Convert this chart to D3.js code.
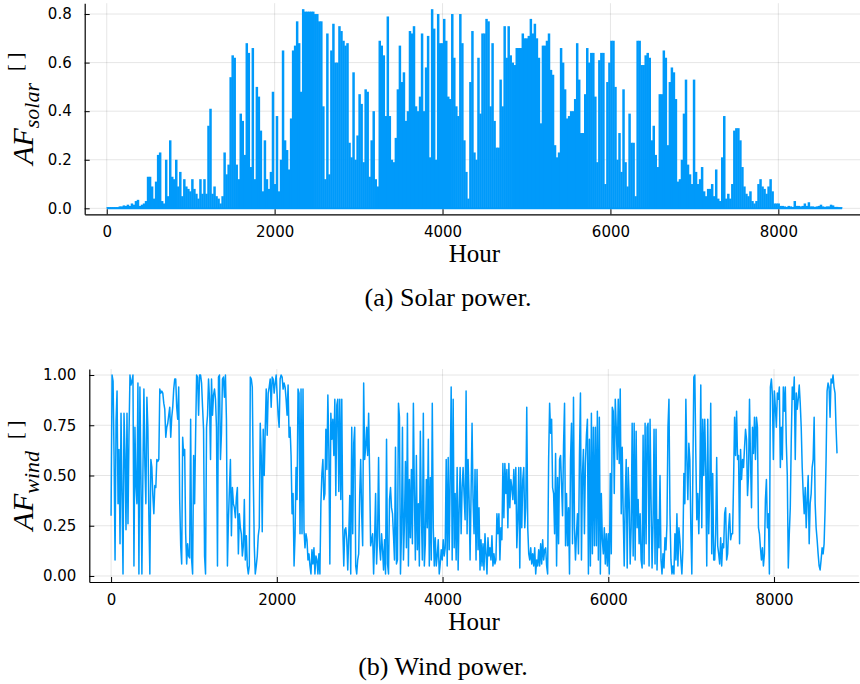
<!DOCTYPE html>
<html>
<head>
<meta charset="utf-8">
<script src="https://cdn.jsdelivr.net/npm/d3@7"></script>
<style>
  html, body { margin: 0; padding: 0; background: #fff; }
  svg { display: block; }
</style>
</head>
<body>
<svg id="chart" width="860" height="684"></svg>
<script>
// ---------------- DATA ----------------
// Solar availability factor: daily peak (one value per day, 365 days)
const solarDailyPeak = [
0.005,0.005,0.005,0.005,0.005,0.005,0.008,0.008,0.012,0.01,0.015,0.01,0.02,0.015,0.03,0.035,0.01,0.015,0.02,0.03,
0.13,0.13,0.09,0.04,0.11,0.22,0.23,0.03,0.02,0.2,0.05,0.28,0.13,0.12,0.2,0.09,0.15,0.05,0.12,0.09,
0.08,0.07,0.12,0.08,0.06,0.04,0.12,0.06,0.12,0.06,0.34,0.41,0.06,0.09,0.05,0.04,0.02,0.05,0.23,0.14,
0.18,0.54,0.63,0.62,0.18,0.12,0.39,0.36,0.22,0.68,0.64,0.17,0.66,0.12,0.5,0.46,0.32,0.07,0.28,0.12,
0.08,0.15,0.48,0.1,0.38,0.07,0.2,0.65,0.28,0.24,0.16,0.37,0.65,0.67,0.77,0.68,0.48,0.82,0.81,0.81,
0.81,0.81,0.81,0.8,0.8,0.77,0.77,0.42,0.12,0.72,0.14,0.65,0.76,0.6,0.6,0.75,0.73,0.69,0.67,0.68,
0.27,0.21,0.56,0.2,0.3,0.47,0.43,0.19,0.49,0.48,0.13,0.28,0.4,0.12,0.09,0.69,0.67,0.63,0.38,0.79,
0.38,0.2,0.19,0.29,0.49,0.67,0.52,0.56,0.36,0.4,0.73,0.72,0.75,0.42,0.4,0.46,0.72,0.4,0.58,0.71,
0.21,0.82,0.74,0.2,0.8,0.68,0.68,0.78,0.69,0.46,0.45,0.8,0.62,0.42,0.38,0.8,0.68,0.28,0.15,0.04,
0.52,0.73,0.23,0.2,0.62,0.39,0.72,0.72,0.78,0.77,0.42,0.68,0.36,0.25,0.25,0.53,0.42,0.75,0.62,0.75,
0.63,0.6,0.59,0.66,0.66,0.66,0.72,0.7,0.7,0.71,0.78,0.72,0.76,0.7,0.62,0.35,0.67,0.67,0.69,0.72,
0.57,0.55,0.26,0.21,0.23,0.66,0.6,0.49,0.37,0.38,0.4,0.4,0.45,0.68,0.53,0.31,0.31,0.47,0.66,0.6,
0.64,0.64,0.46,0.19,0.61,0.64,0.64,0.1,0.52,0.6,0.69,0.69,0.5,0.2,0.31,0.15,0.49,0.19,0.09,0.39,
0.27,0.27,0.05,0.69,0.69,0.59,0.59,0.63,0.64,0.62,0.28,0.34,0.22,0.17,0.47,0.47,0.65,0.62,0.26,0.52,
0.58,0.56,0.45,0.11,0.12,0.2,0.39,0.53,0.18,0.14,0.1,0.53,0.15,0.1,0.12,0.17,0.07,0.05,0.08,0.08,
0.1,0.05,0.16,0.04,0.03,0.21,0.38,0.04,0.06,0.04,0.1,0.32,0.33,0.33,0.28,0.17,0.09,0.06,0.05,0.07,
0.03,0.02,0.03,0.1,0.12,0.09,0.08,0.06,0.09,0.12,0.07,0.02,0.02,0.02,0.01,0.01,0.008,0.006,0.01,0.008,
0.006,0.03,0.01,0.01,0.008,0.01,0.02,0.01,0.025,0.008,0.008,0.006,0.008,0.01,0.015,0.008,0.006,0.008,0.008,0.015,
0.012,0.006,0.006,0.005,0.005
];

// Wind availability factor sampled every 12 hours (hour 0 .. 8760)
const windSampleStep = 12;
const windValues = [
0.3,1.0,0.97,0.6,0.08,0.77,0.92,0.36,0.63,0.16,
0.81,0.4,0.01,0.81,0.61,0.23,0.81,0.26,0.7,1.0,
0.95,0.97,1.0,0.05,0.74,0.45,0.36,0.96,0.01,0.94,
0.5,0.01,0.51,0.93,0.55,0.36,0.89,0.74,0.3,0.01,
0.58,0.54,0.4,0.31,0.45,0.44,0.58,0.57,0.58,0.93,
0.91,0.92,0.91,0.86,0.83,0.69,0.74,0.76,0.8,0.84,
0.69,0.79,0.84,0.93,0.98,0.98,0.84,0.78,0.94,0.38,
0.15,0.06,0.69,0.6,0.63,0.21,0.06,0.16,0.1,0.09,
0.78,0.08,0.01,0.6,0.36,0.7,1.0,0.99,0.8,1.0,
1.0,0.96,0.84,0.73,0.1,0.01,0.74,0.8,0.98,0.88,
0.58,0.98,0.8,0.9,0.93,0.88,0.74,0.05,0.99,1.0,
0.58,0.71,0.98,0.99,0.89,1.0,0.78,0.05,0.28,0.43,
0.58,0.2,0.44,0.36,0.34,0.29,0.39,0.44,0.11,0.31,
0.24,0.21,0.1,0.15,0.38,0.08,0.2,0.05,0.01,0.05,
0.99,0.98,0.94,0.5,0.15,0.01,0.05,0.1,0.2,0.24,
0.76,0.6,0.22,0.73,0.5,0.73,0.93,0.7,0.91,0.94,
0.98,0.84,0.99,0.98,0.91,0.96,1.0,0.9,0.8,0.74,
0.98,1.0,0.99,0.93,0.96,0.94,0.88,0.8,0.95,0.69,
0.74,0.6,0.31,0.41,0.05,0.2,0.54,0.38,0.93,0.91,
0.21,0.93,0.21,0.93,0.23,0.14,0.21,0.18,0.08,0.11,
0.05,0.01,0.13,0.06,0.14,0.01,0.1,0.08,0.01,0.11,
0.01,0.36,0.51,0.58,0.38,0.41,0.73,0.53,0.9,0.63,
0.06,0.81,0.68,0.78,0.6,0.88,0.4,0.85,0.88,0.42,
0.88,0.38,0.88,0.24,0.05,0.23,0.24,0.18,0.03,0.2,
0.4,0.01,0.74,0.21,0.66,0.74,0.05,0.01,0.08,0.11,
0.4,0.58,0.31,0.15,0.96,0.58,0.64,0.74,0.6,0.81,
0.51,0.15,0.18,0.21,0.01,0.18,0.41,0.06,0.2,0.59,
0.15,0.08,0.21,0.13,0.03,0.18,0.01,0.68,0.06,0.01,
0.38,0.44,0.34,0.31,0.2,0.08,0.64,0.06,0.08,0.86,
0.79,0.01,0.21,0.74,0.08,0.26,0.57,0.14,0.81,0.05,
0.48,0.19,0.53,0.16,0.86,0.4,0.08,0.6,0.13,0.36,
0.05,0.72,0.32,0.08,0.81,0.05,0.16,0.48,0.24,0.68,
0.05,0.49,0.08,0.86,0.24,0.05,0.19,0.05,0.1,0.18,
0.01,0.06,0.13,0.08,0.18,0.1,0.14,0.58,0.05,0.59,
0.13,0.48,0.94,0.08,0.88,0.14,0.41,0.08,0.54,0.03,
0.33,0.54,0.21,0.44,0.54,0.4,0.28,0.92,0.21,0.58,
0.39,0.08,0.41,0.76,0.38,0.21,0.53,0.08,0.53,0.13,
0.34,0.03,0.18,0.05,0.16,0.03,0.21,0.11,0.01,0.19,
0.1,0.14,0.08,0.2,0.05,0.11,0.06,0.08,0.31,0.21,
0.31,0.08,0.24,0.18,0.56,0.29,0.56,0.41,0.53,0.24,
0.56,0.34,0.48,0.44,0.38,0.53,0.36,0.54,0.14,0.28,
0.54,0.04,0.54,0.24,0.48,0.54,0.24,0.34,0.84,0.24,
0.11,0.08,0.14,0.06,0.11,0.05,0.14,0.01,0.08,0.05,
0.13,0.05,0.16,0.06,0.18,0.08,0.13,0.14,0.05,0.01,
0.58,0.86,0.71,0.78,0.44,0.41,0.21,0.61,0.05,0.49,
0.16,0.58,0.6,0.45,0.3,0.65,0.86,0.15,0.41,0.15,
0.34,0.01,0.58,0.76,0.16,0.89,0.24,0.08,0.21,0.31,
0.11,0.6,0.91,0.08,0.5,0.63,0.21,0.56,0.7,0.78,
0.01,0.68,0.05,0.81,0.11,0.74,0.15,0.74,0.15,0.82,
0.08,0.79,0.01,0.41,0.18,0.11,0.24,0.06,0.21,0.05,
0.21,0.01,0.51,0.11,0.84,0.82,0.41,0.88,0.74,0.58,
0.88,0.56,0.93,0.31,0.64,0.31,0.05,0.38,0.58,0.04,
0.54,0.38,0.06,0.24,0.76,0.1,0.76,0.08,0.72,0.24,
0.38,0.16,0.31,0.08,0.04,0.7,0.06,0.76,0.16,0.74,
0.76,0.05,0.78,0.38,0.04,0.26,0.73,0.06,0.73,0.03,
0.28,0.14,0.5,0.08,0.01,0.11,0.04,0.19,0.13,0.26,
0.74,0.88,0.31,0.08,0.01,0.05,0.01,0.21,0.08,0.31,
0.05,0.24,0.18,0.08,0.01,0.13,0.51,0.36,0.88,0.58,
0.38,0.66,0.58,0.24,0.01,0.5,0.99,1.0,0.61,0.28,
0.41,0.21,0.44,0.95,0.24,0.78,0.5,0.78,0.53,0.05,
0.78,0.21,0.44,0.86,0.11,0.51,0.08,0.08,0.21,0.59,
0.15,0.11,0.06,0.19,0.05,0.16,0.14,0.31,0.34,0.08,
0.11,0.24,0.31,0.18,0.21,0.21,0.48,0.79,0.6,0.82,
0.58,0.6,0.16,0.63,0.48,0.58,0.54,0.64,0.73,0.68,
0.4,0.5,0.88,0.58,0.34,0.74,0.61,0.79,0.58,0.79,
0.74,0.24,0.21,0.14,0.08,0.14,0.05,0.11,0.38,0.48,
0.24,0.31,0.01,0.94,0.98,0.9,0.58,0.92,0.84,0.74,
0.91,0.88,0.94,0.54,0.74,0.58,0.94,0.82,0.94,0.66,
0.5,0.04,0.21,0.34,0.68,0.94,0.88,0.99,0.58,0.91,
0.83,0.88,0.95,0.86,0.74,0.54,0.41,0.31,0.44,0.24,
0.38,0.5,0.16,0.36,0.41,0.54,0.58,0.79,0.36,0.24,
0.18,0.11,0.05,0.03,0.08,0.14,0.11,0.16,0.33,0.58,
0.92,0.96,0.94,0.79,0.98,0.96,1.0,0.94,0.91,0.74,0.61
];

const hourTicks = [0, 2000, 4000, 6000, 8000];
const solarTicks = [0, 0.2, 0.4, 0.6, 0.8];
const solarTickLabels = ["0.0", "0.2", "0.4", "0.6", "0.8"];
const windTicks = [0, 0.25, 0.5, 0.75, 1.0];
const windTickLabels = ["0.00", "0.25", "0.50", "0.75", "1.00"];
const hoursInYear = 8760;

// ---------------- DRAWING ----------------
const svg = d3.select("#chart");
const COLOR = "#009AFA";
const tickFont = "'DejaVu Sans', sans-serif";
const serif = "'Liberation Serif', 'Times New Roman', serif";

function widen(lo, hi) { const p = 0.03 * (hi - lo); return [lo - p, hi + p]; }

function panel(opts) {
  const g = svg.append("g");
  const x = d3.scaleLinear().domain(widen(0, hoursInYear)).range([opts.left, opts.right]);
  const y = d3.scaleLinear().domain(widen(0, opts.ymax)).range([opts.bottom, opts.top]);

  // grid
  const grid = g.append("g").attr("stroke", "#000").attr("stroke-opacity", 0.1).attr("stroke-width", 1);
  grid.selectAll("line.v").data(hourTicks).join("line").attr("class", "v")
    .attr("x1", d => x(d)).attr("x2", d => x(d)).attr("y1", opts.top).attr("y2", opts.bottom);
  grid.selectAll("line.h").data(opts.ticks).join("line").attr("class", "h")
    .attr("y1", d => y(d)).attr("y2", d => y(d)).attr("x1", opts.left).attr("x2", opts.right);

  opts.draw(g, x, y);

  // axes
  const ax = d3.axisBottom(x).tickValues(hourTicks).tickFormat(d3.format("d"))
    .tickSizeInner(-5).tickSizeOuter(0).tickPadding(12);
  const gx = g.append("g").attr("transform", `translate(0,${opts.bottom})`).call(ax);
  const ay = d3.axisLeft(y).tickValues(opts.ticks).tickFormat((d, i) => opts.tickLabels[i])
    .tickSizeInner(-5).tickSizeOuter(0).tickPadding(13);
  const gy = g.append("g").attr("transform", `translate(${opts.left},0)`).call(ay);
  [gx, gy].forEach(a => {
    a.select(".domain").attr("stroke", "#000").attr("stroke-width", 1.2);
    a.selectAll(".tick line").attr("stroke", "#000").attr("stroke-width", 1);
    a.selectAll(".tick text").attr("font-family", tickFont).attr("font-size", 15).attr("fill", "#000");
  });

  // x label
  g.append("text").attr("x", (opts.left + opts.right) / 2).attr("y", opts.xlabelY)
    .attr("text-anchor", "middle").attr("font-family", serif).attr("font-size", 25).text("Hour");

  // y label
  const cy = (opts.top + opts.bottom) / 2;
  const yl = g.append("text").attr("transform", `translate(33,${cy}) rotate(-90)`)
    .attr("text-anchor", "middle").attr("font-family", serif);
  yl.append("tspan").attr("font-style", "italic").attr("font-size", 30).text("AF");
  yl.append("tspan").attr("font-style", "italic").attr("font-size", 22).attr("dy", 6).text(opts.sub);
  yl.append("tspan").attr("font-size", 20).attr("dx", 12).attr("dy", -17).text("[ ]");

  // caption
  svg.append("text").attr("x", opts.capX).attr("y", opts.capY).attr("text-anchor", "middle")
    .attr("font-family", serif).attr("font-size", 26).text(opts.caption);
}

panel({
  left: 84.7, right: 864.2, top: 3.2, bottom: 214.3,
  ymax: d3.max(solarDailyPeak), ticks: solarTicks, tickLabels: solarTickLabels,
  sub: "solar", caption: "(a) Solar power.", capX: 448, capY: 306, xlabelY: 262,
  draw: (g, x, y) => {
    // night-time zero line
    g.append("line").attr("x1", x(1)).attr("x2", x(hoursInYear)).attr("y1", y(0)).attr("y2", y(0))
      .attr("stroke", COLOR).attr("stroke-width", 1.6);
    // daily production spikes
    g.append("g").selectAll("line").data(solarDailyPeak).join("line")
      .attr("x1", (d, i) => x(24 * i + 12)).attr("x2", (d, i) => x(24 * i + 12))
      .attr("y1", y(0)).attr("y2", d => y(d))
      .attr("stroke", COLOR).attr("stroke-width", 2.5);
  }
});

panel({
  left: 89.3, right: 858.8, top: 369, bottom: 582,
  ymax: d3.max(windValues), ticks: windTicks, tickLabels: windTickLabels,
  sub: "wind", caption: "(b) Wind power.", capX: 443, capY: 674.5, xlabelY: 630,
  draw: (g, x, y) => {
    const line = d3.line().x((d, i) => x(i * windSampleStep)).y(d => y(d));
    g.append("path").datum(windValues).attr("d", line)
      .attr("fill", "none").attr("stroke", COLOR).attr("stroke-width", 1.5)
      .attr("stroke-linejoin", "round");
  }
});
</script>
</body>
</html>
